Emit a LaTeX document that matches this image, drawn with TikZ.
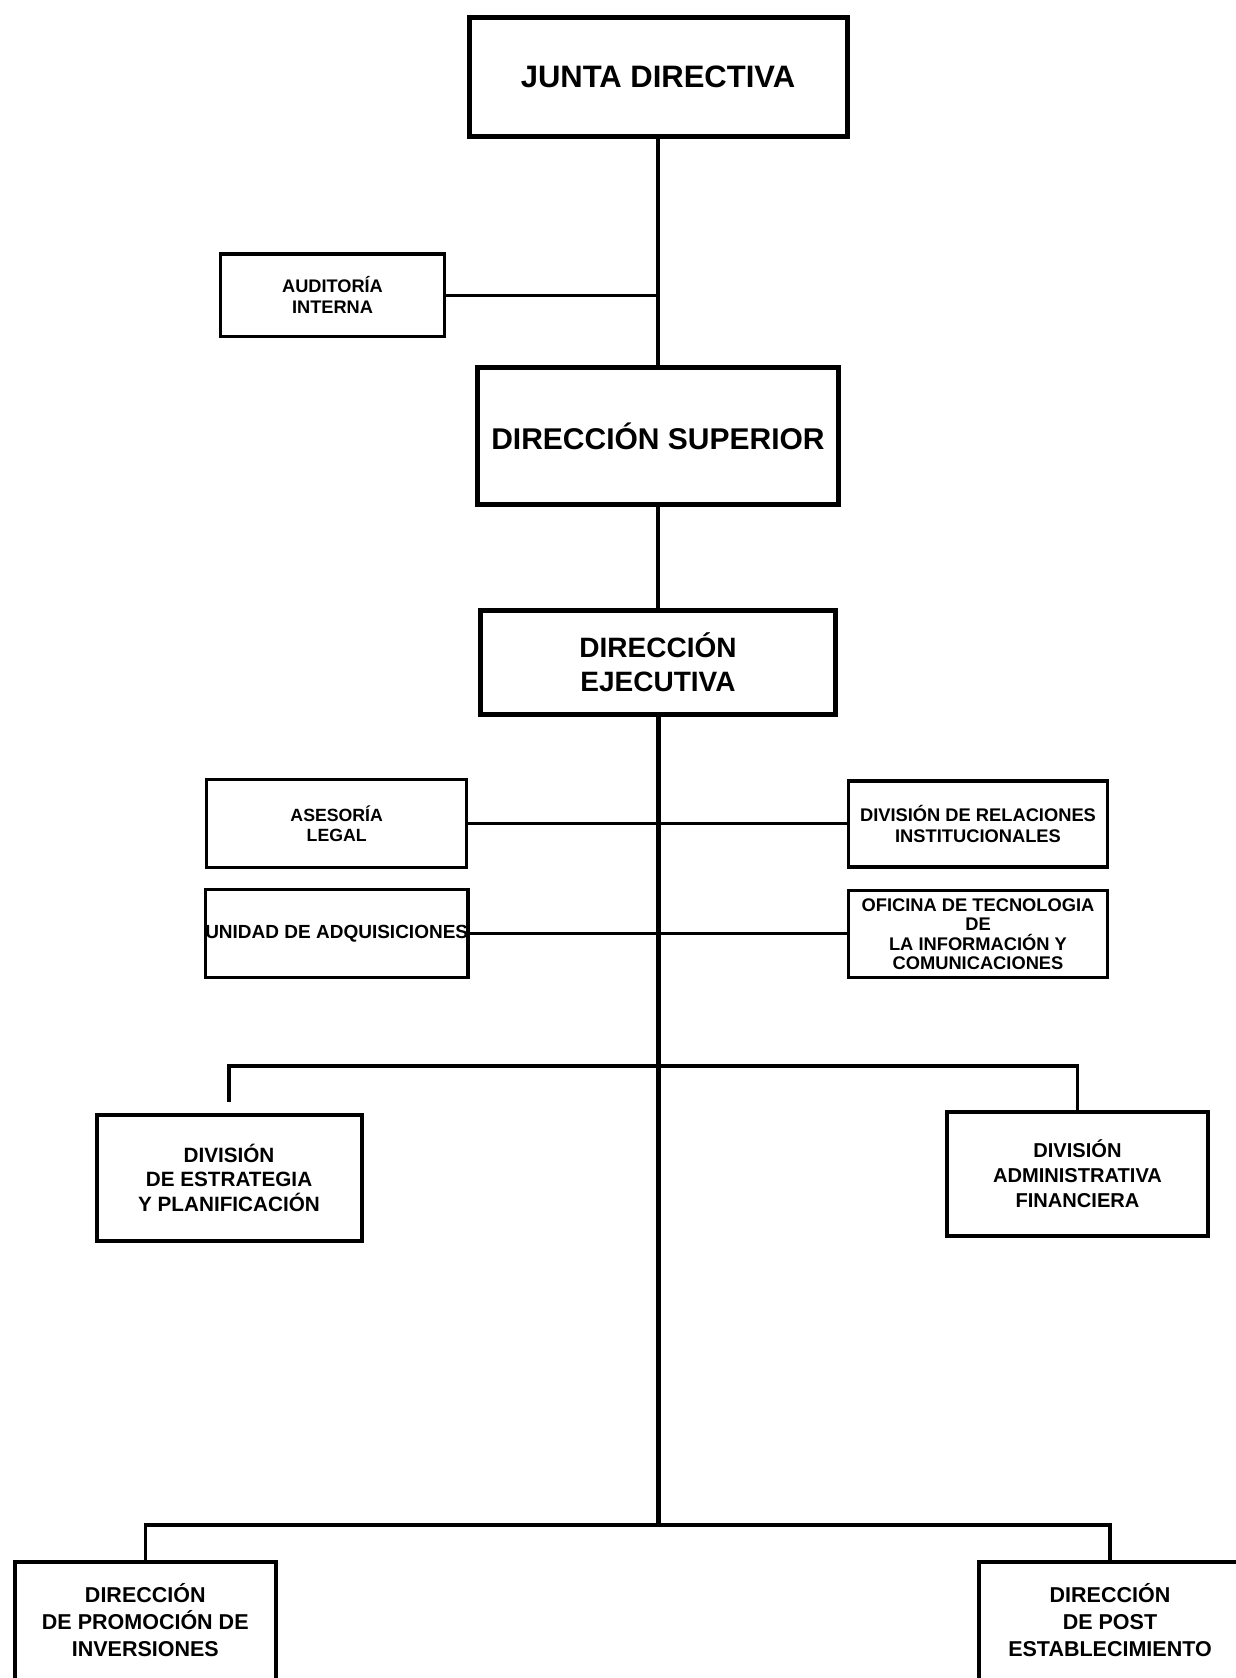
\documentclass[tikz,border=0pt]{standalone}
\usepackage{fontspec}
\setmainfont{Liberation Sans}
\usetikzlibrary{positioning}
\newcommand{\boxfont}[2]{\fontsize{#1}{#2}\selectfont\bfseries}

\begin{document}
\begin{tikzpicture}[x=1pt,y=-1pt,
		headbox/.style={draw,line width=5pt,align=center,inner sep=0pt},
		unitbox/.style={draw,line width=3.5pt,align=center,inner sep=0pt},
		divbox/.style={draw,line width=4pt,align=center,inner sep=0pt},
		openbox/.style={align=center,inner sep=0pt},
		frame/.style={line width=4pt},
		link/.style={line width=3.5pt},
		trunk/.style={line width=5pt}]
		\def \W {1236};
		\def \H {1678};
		\useasboundingbox (0,0) rectangle (\W,\H);
		\clip (0,0) rectangle (\W,\H);
		\node[headbox,minimum width=378pt,minimum height=119.5pt,font=\boxfont{31}{37}] (junta) at (658,77.2) {JUNTA DIRECTIVA};
		\node[headbox,minimum width=361pt,minimum height=137.5pt,font=\boxfont{30}{36}] (superior) at (658,436) {DIRECCIÓN SUPERIOR};
		\node[headbox,minimum width=354.5pt,minimum height=104pt,font=\boxfont{28}{34}] (ejecutiva) at (658,662.5) {DIRECCIÓN\\EJECUTIVA};
		\node[unitbox,minimum width=224pt,minimum height=82.5pt,font=\boxfont{18.2}{21}] (auditoria) at (332.5,295.3) {AUDITORÍA\\INTERNA};
		\node[unitbox,minimum width=260pt,minimum height=88pt,font=\boxfont{17.7}{20}] (asesoria) at (336.7,823.7) {ASESORÍA\\LEGAL};
		\node[unitbox,minimum width=260pt,minimum height=88pt,font=\boxfont{19}{22}] (adquisiciones) at (336.7,933.7) {UNIDAD DE ADQUISICIONES};
		\node[unitbox,minimum width=259pt,minimum height=86pt,font=\boxfont{18.3}{20.5}] (relaciones) at (978,824) {DIVISIÓN DE RELACIONES\\INSTITUCIONALES};
		\node[unitbox,minimum width=259pt,minimum height=87pt,font=\boxfont{18.3}{19.5}] (tecnologia) at (978,934) {OFICINA DE TECNOLOGIA\\DE\\LA INFORMACIÓN Y\\COMUNICACIONES};
		\node[divbox,minimum width=265pt,minimum height=126pt,font=\boxfont{20.7}{24.5}] (estrategia) at (229,1177.5) {DIVISIÓN\\DE ESTRATEGIA\\Y PLANIFICACIÓN};
		\node[divbox,minimum width=261pt,minimum height=124pt,font=\boxfont{20.1}{25}] (administrativa) at (1077.5,1174) {DIVISIÓN\\ADMINISTRATIVA\\FINANCIERA};
		\node[openbox,minimum width=261pt,minimum height=115pt,font=\boxfont{21.5}{27}] (promocion) at (145.3,1619.6) {DIRECCIÓN\\DE PROMOCIÓN DE\\INVERSIONES};
		\node[openbox,minimum width=262pt,minimum height=115pt,font=\boxfont{21.5}{27}] (post) at (1110,1620) {DIRECCIÓN\\DE POST\\ESTABLECIMIENTO};
		\foreach \n in {promocion,post}
		{
			\draw[frame] ([yshift=-40pt]\n.south west) -- (\n.north west) -- (\n.north east) -- ([yshift=-40pt]\n.south east);
		}
		\coordinate (hubA) at (ejecutiva.south |- 0,1066);
		\coordinate (hubB) at (ejecutiva.south |- 0,1525);
		\coordinate (estrtop) at ([yshift=11pt]estrategia.north);
		\draw[link] (junta.south) -- (superior.north);
		\draw[link] (auditoria.east) -- (auditoria.east -| junta.south);
		\draw[link] (superior.south) -- (ejecutiva.north);
		\draw[trunk] (ejecutiva.south) -- (hubB);
		\foreach \l/\r in {asesoria/relaciones,adquisiciones/tecnologia}
		{
			\draw[link] (\l.east) -- (\l.east -| \r.west);
		}
		\draw[link] (estrtop) |- (hubA) -| (administrativa.north);
		\draw[link] (promocion.north) |- (hubB) -| (post.north);
\end{tikzpicture}
\end{document}
